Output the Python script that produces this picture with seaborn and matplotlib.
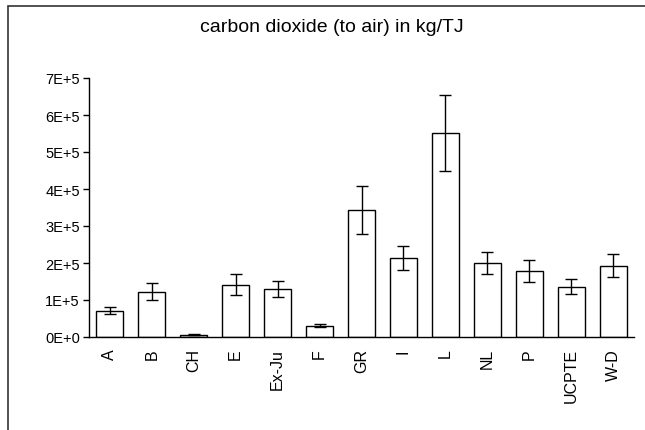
import matplotlib
matplotlib.use('Agg')
import matplotlib.pyplot as plt
from matplotlib.patches import Rectangle
from matplotlib.ticker import FuncFormatter
import seaborn as sns
import pandas as pd

# values (kg/TJ)
countries = ['A', 'B', 'CH', 'E', 'Ex-Ju', 'F', 'GR', 'I', 'L', 'NL', 'P', 'UCPTE', 'W-D']
co2 = [71000, 122000, 6000, 141000, 130000, 31000, 344000, 214000, 552000, 201000, 178000, 136000, 193000]
err = [10000, 23000, 1000, 28000, 22000, 5000, 65000, 32000, 102000, 30000, 29000, 20000, 32000]
yticks = [0, 100000, 200000, 300000, 400000, 500000, 600000, 700000]

df = pd.DataFrame({'country': countries, 'co2': co2, 'err': err})

sns.set_style('white')
plt.rcParams['font.family'] = ['Liberation Sans', 'DejaVu Sans']
plt.rcParams['text.color'] = 'black'
plt.rcParams['xtick.color'] = 'black'
plt.rcParams['ytick.color'] = 'black'

fig = plt.figure(figsize=(6.45, 4.31), dpi=100)
ax = fig.add_axes([89 / 645, 1 - 338 / 431, (634 - 89) / 645, (338 - 79) / 431])

sns.barplot(data=df, x='country', y='co2', color='white', edgecolor='black',
            linewidth=1, width=0.645, errorbar=None, ax=ax)
ax.errorbar(range(len(countries)), df['co2'], yerr=df['err'], fmt='none',
            ecolor='black', elinewidth=1, capsize=4, capthick=1)

ax.set_xlim(-0.5, len(countries) - 0.5)
ax.set_ylim(0, 700000)
ax.set_yticks(yticks)
ax.yaxis.set_major_formatter(FuncFormatter(lambda v, p: '%dE+%d' % (v // 100000, 5) if v else '0E+0'))
ax.set_xlabel('')
ax.set_ylabel('')
plt.setp(ax.get_xticklabels(), rotation=90)
ax.tick_params(axis='y', direction='out', length=4, width=1, labelsize=10.5, left=True, pad=2.5)
ax.tick_params(axis='x', length=0, labelsize=11.5, pad=8)

for s in ['top', 'right']:
    ax.spines[s].set_visible(False)
for s in ['left', 'bottom']:
    ax.spines[s].set_color('black')
    ax.spines[s].set_linewidth(1)

fig.text(332 / 645, 1 - 28 / 431, 'carbon dioxide (to air) in kg/TJ',
         ha='center', va='center', fontsize=14)

# outer frame, runs off the right and bottom edges like the reference
fig.patches.append(Rectangle((8 / 645, -0.2), 1.2, 1.2 - 7 / 431, transform=fig.transFigure,
                             fill=False, edgecolor='#333333', linewidth=1.2))

fig.savefig('out.png', dpi=100)
